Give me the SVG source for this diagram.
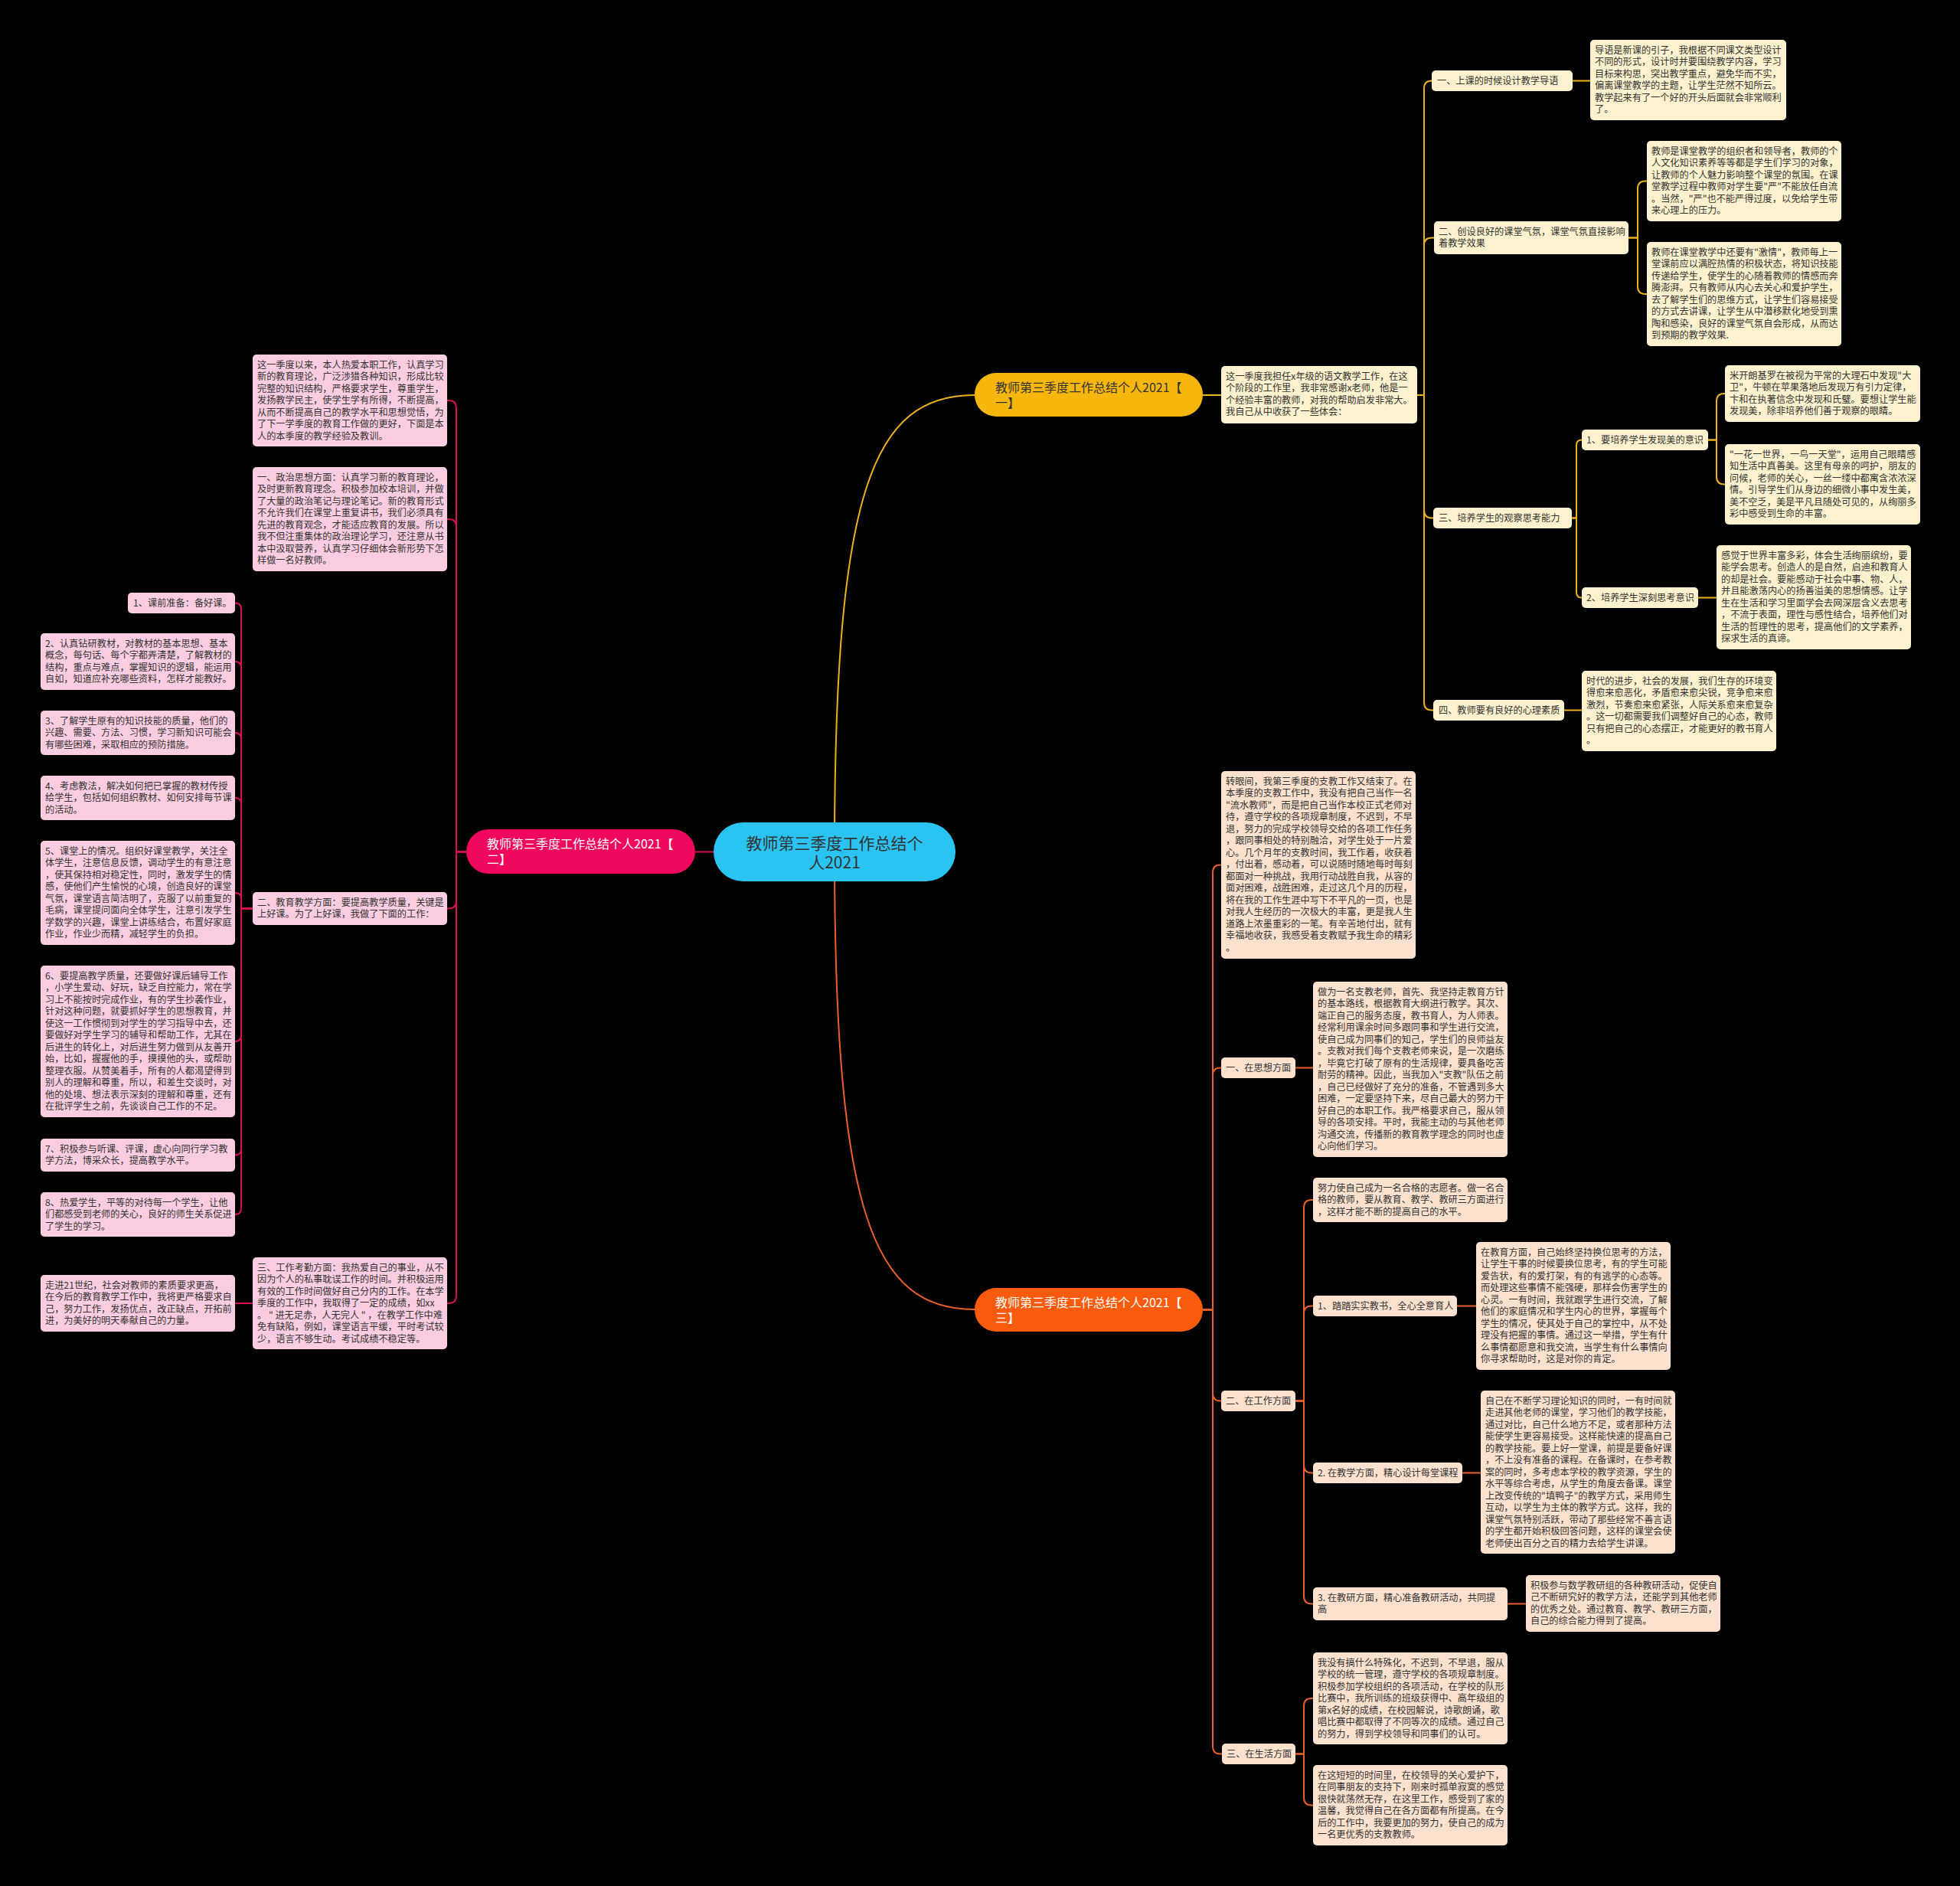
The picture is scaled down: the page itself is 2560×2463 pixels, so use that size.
<svg xmlns="http://www.w3.org/2000/svg" width="2560" height="2463" viewBox="0 0 2560 2463">
<style>
.t{font-family:"Noto Sans CJK SC","Noto Sans",sans-serif;font-size:12.2px;fill:#333}
.r1{fill:#fdf2cd;rx:5}
.r2{fill:#fccde0;rx:5}
.r3{fill:#fde1cf;rx:5}
.ly{fill:none;stroke:#ecb21e;stroke-width:2}
.lp{fill:none;stroke:#d40f55;stroke-width:2}
.lo{fill:none;stroke:#e8602a;stroke-width:2}
.bt{font-family:"Noto Sans CJK SC","Noto Sans",sans-serif;font-size:16px}
</style>
<rect width="2560" height="2463" fill="#000"/>
<g id="connectors">
<path class="ly" stroke-width="2.5" d="M1090 1112 C1090 640 1140 516 1273 516"/>
<path class="lo" stroke-width="2.5" d="M1090 1112 C1090 1584 1140 1710 1273 1710"/>
<path class="lp" stroke-width="2.5" d="M932 1112.5 H908"/>
<path class="ly" d="M1571 516 H1595"/>
<path class="ly" d="M1851 516 H1860 V115.5 Q1860 105.5 1870 105.5"/>
<path class="ly" d="M1851 516 H1860 V320.5 Q1860 310.5 1870 310.5 H1873"/>
<path class="ly" d="M1851 516 H1860 V666.5 Q1860 676.5 1870 676.5 H1872"/>
<path class="ly" d="M1851 516 H1860 V917.5 Q1860 927.5 1870 927.5 H1872"/>
<path class="ly" d="M2054 105.5 H2077"/>
<path class="ly" d="M2127 310.5 H2139 V246.5 Q2139 236.5 2149 236.5 H2151"/>
<path class="ly" d="M2127 310.5 H2139 V374 Q2139 384 2149 384 H2151"/>
<path class="ly" d="M2053 676.5 H2059 V581.5 Q2059 574.5 2066 574.5"/>
<path class="ly" d="M2053 676.5 H2059 V773.5 Q2059 780.5 2066 780.5"/>
<path class="ly" d="M2231 574.5 H2242 V524 Q2242 514 2252 514 H2253"/>
<path class="ly" d="M2231 574.5 H2242 V622.5 Q2242 632.5 2252 632.5 H2253"/>
<path class="ly" d="M2218 780.5 H2242"/>
<path class="ly" d="M2043 927.5 H2066"/>
<path class="lp" d="M609 1112.5 H596 V533 Q596 523 586 523 H584"/>
<path class="lp" d="M609 1112.5 H596 V688 Q596 678 586 678 H584"/>
<path class="lp" d="M609 1112.5 H596 V1176.5 Q596 1186.5 586 1186.5 H584"/>
<path class="lp" d="M609 1112.5 H596 V1692 Q596 1702 586 1702 H584"/>
<path class="lp" d="M330 1186.5 H315 V795.5 Q315 787.5 307 787.5"/>
<path class="lp" d="M330 1186.5 H315 V872 Q315 864 307 864"/>
<path class="lp" d="M330 1186.5 H315 V965 Q315 957 307 957"/>
<path class="lp" d="M330 1186.5 H315 V1050 Q315 1042 307 1042"/>
<path class="lp" d="M330 1186.5 H315 V1174 Q315 1166 307 1166"/>
<path class="lp" d="M330 1186.5 H315 V1352 Q315 1360 307 1360"/>
<path class="lp" d="M330 1186.5 H315 V1500.5 Q315 1508.5 307 1508.5"/>
<path class="lp" d="M330 1186.5 H315 V1578 Q315 1586 307 1586"/>
<path class="lp" d="M330 1702 H307"/>
<path class="lo" d="M1571 1710.5 H1584 V1139.5 Q1584 1129.5 1594 1129.5 H1595"/>
<path class="lo" d="M1571 1710.5 H1584 V1404.5 Q1584 1394.5 1594 1394.5 H1595"/>
<path class="lo" d="M1571 1710.5 H1584 V1819.5 Q1584 1829.5 1594 1829.5 H1595"/>
<path class="lo" d="M1571 1710.5 H1584 V2280.5 Q1584 2290.5 1594 2290.5 H1596"/>
<path class="lo" d="M1692 1394.5 H1715"/>
<path class="lo" d="M1692 1829.5 H1703 V1577 Q1703 1567 1713 1567 H1715"/>
<path class="lo" d="M1692 1829.5 H1703 V1715.5 Q1703 1705.5 1713 1705.5 H1715"/>
<path class="lo" d="M1692 1829.5 H1703 V1913.5 Q1703 1923.5 1713 1923.5 H1715"/>
<path class="lo" d="M1692 1829.5 H1703 V2084.5 Q1703 2094.5 1713 2094.5 H1715"/>
<path class="lo" d="M1903 1705.5 H1928"/>
<path class="lo" d="M1910 1923.5 H1934"/>
<path class="lo" d="M1969 2094.5 H1993"/>
<path class="lo" d="M1692 2290.5 H1703 V2228 Q1703 2218 1713 2218 H1715"/>
<path class="lo" d="M1692 2290.5 H1703 V2347.5 Q1703 2357.5 1713 2357.5 H1715"/>
</g>

<g id="center">
<rect x="932" y="1074" width="316" height="77" rx="38.5" fill="#2bc4f2"/>
<text x="1090" y="1109" text-anchor="middle" font-family="Noto Sans CJK SC, Noto Sans, sans-serif" font-size="21" fill="#333"><tspan x="1090">教师第三季度工作总结个</tspan><tspan x="1090" dy="25">人2021</tspan></text>
</g>

<g id="branch1">
<rect x="1273" y="487" width="298" height="57" rx="28" fill="#f7b60c"/>
<text class="bt" fill="#333" x="1300" y="512"><tspan x="1300">教师第三季度工作总结个人2021【</tspan><tspan x="1300" dy="20">一】</tspan></text>
</g>
<g id="branch2">
<rect x="609" y="1083" width="299" height="58" rx="29" fill="#f0075e"/>
<text class="bt" fill="#fff" x="636" y="1108"><tspan x="636">教师第三季度工作总结个人2021【</tspan><tspan x="636" dy="20">二】</tspan></text>
</g>
<g id="branch3">
<rect x="1273" y="1682" width="298" height="57" rx="28" fill="#fb5b0c"/>
<text class="bt" fill="#fff" x="1300" y="1707"><tspan x="1300">教师第三季度工作总结个人2021【</tspan><tspan x="1300" dy="20">三】</tspan></text>
</g>

<g id="b1-intro"><rect class="r1" x="1595" y="478" width="256" height="75"/>
<text class="t" y="495.5"><tspan x="1601">这一季度我担任x年级的语文教学工作，在这</tspan><tspan x="1601" dy="15.5">个阶段的工作里，我非常感谢x老师，他是一</tspan><tspan x="1601" dy="15.5">个经验丰富的教师，对我的帮助启发非常大。</tspan><tspan x="1601" dy="15.5">我自己从中收获了一些体会：</tspan></text></g>

<g id="b1-l1"><rect class="r1" x="1870" y="92" width="184" height="27"/>
<text class="t" x="1877" y="110">一、上课的时候设计教学导语</text></g>
<g id="b1-l1-box"><rect class="r1" x="2077" y="52" width="256" height="105"/>
<text class="t" y="69.5"><tspan x="2083">导语是新课的引子，我根据不同课文类型设计</tspan><tspan x="2083" dy="15.5">不同的形式，设计时并要围绕教学内容，学习</tspan><tspan x="2083" dy="15.5">目标来构思，突出教学重点，避免华而不实，</tspan><tspan x="2083" dy="15.5">偏离课堂教学的主题，让学生茫然不知所云。</tspan><tspan x="2083" dy="15.5">教学起来有了一个好的开头后面就会非常顺利</tspan><tspan x="2083" dy="15.5">了。</tspan></text></g>

<g id="b1-l2"><rect class="r1" x="1873" y="289" width="254" height="43"/>
<text class="t" y="306.5"><tspan x="1879">二、创设良好的课堂气氛，课堂气氛直接影响</tspan><tspan x="1879" dy="15.5">着教学效果</tspan></text></g>
<g id="b1-l2-a"><rect class="r1" x="2151" y="184" width="254" height="105"/>
<text class="t" y="201.5"><tspan x="2157">教师是课堂教学的组织者和领导者，教师的个</tspan><tspan x="2157" dy="15.5">人文化知识素养等等都是学生们学习的对象，</tspan><tspan x="2157" dy="15.5">让教师的个人魅力影响整个课堂的氛围。在课</tspan><tspan x="2157" dy="15.5">堂教学过程中教师对学生要"严"不能放任自流</tspan><tspan x="2157" dy="15.5">。当然，"严"也不能严得过度，以免给学生带</tspan><tspan x="2157" dy="15.5">来心理上的压力。</tspan></text></g>
<g id="b1-l2-b"><rect class="r1" x="2151" y="316" width="254" height="136"/>
<text class="t" y="333.5"><tspan x="2157">教师在课堂教学中还要有"激情"，教师每上一</tspan><tspan x="2157" dy="15.5">堂课前应以满腔热情的积极状态，将知识技能</tspan><tspan x="2157" dy="15.5">传递给学生，使学生的心随着教师的情感而奔</tspan><tspan x="2157" dy="15.5">腾澎湃。只有教师从内心去关心和爱护学生，</tspan><tspan x="2157" dy="15.5">去了解学生们的思维方式，让学生们容易接受</tspan><tspan x="2157" dy="15.5">的方式去讲课，让学生从中潜移默化地受到熏</tspan><tspan x="2157" dy="15.5">陶和感染，良好的课堂气氛自会形成，从而达</tspan><tspan x="2157" dy="15.5">到预期的教学效果.</tspan></text></g>

<g id="b1-l3"><rect class="r1" x="1872" y="663" width="181" height="27"/>
<text class="t" x="1879" y="681">三、培养学生的观察思考能力</text></g>
<g id="b1-l3-1"><rect class="r1" x="2066" y="561" width="165" height="27"/>
<text class="t" x="2072" y="579">1、要培养学生发现美的意识</text></g>
<g id="b1-l3-1a"><rect class="r1" x="2253" y="477" width="255" height="74"/>
<text class="t" y="494.5"><tspan x="2259">米开朗基罗在被视为平常的大理石中发现"大</tspan><tspan x="2259" dy="15.5">卫"，牛顿在苹果落地后发现万有引力定律，</tspan><tspan x="2259" dy="15.5">卞和在执著信念中发现和氏璧。要想让学生能</tspan><tspan x="2259" dy="15.5">发现美，除非培养他们善于观察的眼睛。</tspan></text></g>
<g id="b1-l3-1b"><rect class="r1" x="2253" y="580" width="255" height="105"/>
<text class="t" y="597.5"><tspan x="2259">"一花一世界，一鸟一天堂"，运用自己眼睛感</tspan><tspan x="2259" dy="15.5">知生活中真善美。这里有母亲的呵护，朋友的</tspan><tspan x="2259" dy="15.5">问候，老师的关心，一丝一缕中都寓含浓浓深</tspan><tspan x="2259" dy="15.5">情。引导学生们从身边的细微小事中发生美，</tspan><tspan x="2259" dy="15.5">美不空乏，美是平凡且随处可见的，从绚丽多</tspan><tspan x="2259" dy="15.5">彩中感受到生命的丰富。</tspan></text></g>
<g id="b1-l3-2"><rect class="r1" x="2066" y="767" width="152" height="27"/>
<text class="t" x="2072" y="785">2、培养学生深刻思考意识</text></g>
<g id="b1-l3-2a"><rect class="r1" x="2242" y="712" width="254" height="136"/>
<text class="t" y="729.5"><tspan x="2248">感觉于世界丰富多彩，体会生活绚丽缤纷，要</tspan><tspan x="2248" dy="15.5">能学会思考。创造人的是自然，启迪和教育人</tspan><tspan x="2248" dy="15.5">的却是社会。要能感动于社会中事、物、人，</tspan><tspan x="2248" dy="15.5">并且能激荡内心的扬善溢美的思想情感。让学</tspan><tspan x="2248" dy="15.5">生在生活和学习里面学会去网深层含义去思考</tspan><tspan x="2248" dy="15.5">，不流于表面，理性与感性结合，培养他们对</tspan><tspan x="2248" dy="15.5">生活的哲理性的思考，提高他们的文学素养，</tspan><tspan x="2248" dy="15.5">探求生活的真谛。</tspan></text></g>

<g id="b1-l4"><rect class="r1" x="1872" y="914" width="171" height="27"/>
<text class="t" x="1879" y="932">四、教师要有良好的心理素质</text></g>
<g id="b1-l4-a"><rect class="r1" x="2066" y="876" width="254" height="105"/>
<text class="t" y="893.5"><tspan x="2072">时代的进步，社会的发展，我们生存的环境变</tspan><tspan x="2072" dy="15.5">得愈来愈恶化，矛盾愈来愈尖锐，竞争愈来愈</tspan><tspan x="2072" dy="15.5">激烈，节奏愈来愈紧张，人际关系愈来愈复杂</tspan><tspan x="2072" dy="15.5">。这一切都需要我们调整好自己的心态，教师</tspan><tspan x="2072" dy="15.5">只有把自己的心态摆正，才能更好的教书育人</tspan><tspan x="2072" dy="15.5">。</tspan></text></g>

<g id="b2-a"><rect class="r2" x="330" y="463" width="254" height="120"/>
<text class="t" y="480.5"><tspan x="336">这一季度以来，本人热爱本职工作，认真学习</tspan><tspan x="336" dy="15.5">新的教育理论，广泛涉猎各种知识，形成比较</tspan><tspan x="336" dy="15.5">完整的知识结构，严格要求学生，尊重学生，</tspan><tspan x="336" dy="15.5">发扬教学民主，使学生学有所得，不断提高，</tspan><tspan x="336" dy="15.5">从而不断提高自己的教学水平和思想觉悟，为</tspan><tspan x="336" dy="15.5">了下一学季度的教育工作做的更好，下面是本</tspan><tspan x="336" dy="15.5">人的本季度的教学经验及教训。</tspan></text></g>
<g id="b2-b"><rect class="r2" x="330" y="610" width="254" height="136"/>
<text class="t" y="627.5"><tspan x="336">一、政治思想方面：认真学习新的教育理论，</tspan><tspan x="336" dy="15.5">及时更新教育理念。积极参加校本培训，并做</tspan><tspan x="336" dy="15.5">了大量的政治笔记与理论笔记。新的教育形式</tspan><tspan x="336" dy="15.5">不允许我们在课堂上重复讲书，我们必须具有</tspan><tspan x="336" dy="15.5">先进的教育观念，才能适应教育的发展。所以</tspan><tspan x="336" dy="15.5">我不但注重集体的政治理论学习，还注意从书</tspan><tspan x="336" dy="15.5">本中汲取营养，认真学习仔细体会新形势下怎</tspan><tspan x="336" dy="15.5">样做一名好教师。</tspan></text></g>
<g id="b2-c"><rect class="r2" x="330" y="1165" width="254" height="43"/>
<text class="t" y="1182.5"><tspan x="336">二、教育教学方面：要提高教学质量，关键是</tspan><tspan x="336" dy="15.5">上好课。为了上好课，我做了下面的工作：</tspan></text></g>
<g id="b2-d"><rect class="r2" x="330" y="1642" width="254" height="120"/>
<text class="t" y="1659.5"><tspan x="336">三、工作考勤方面：我热爱自己的事业，从不</tspan><tspan x="336" dy="15.5">因为个人的私事耽误工作的时间。并积极运用</tspan><tspan x="336" dy="15.5">有效的工作时间做好自己分内的工作。在本学</tspan><tspan x="336" dy="15.5">季度的工作中，我取得了一定的成绩，如xx</tspan><tspan x="336" dy="15.5">。 " 进无足赤，人无完人 " ，在教学工作中难</tspan><tspan x="336" dy="15.5">免有缺陷，例如，课堂语言平缓，平时考试较</tspan><tspan x="336" dy="15.5">少，语言不够生动。考试成绩不稳定等。</tspan></text></g>
<g id="b2-d1"><rect class="r2" x="53" y="1665" width="254" height="74"/>
<text class="t" y="1682.5"><tspan x="59">走进21世纪，社会对教师的素质要求更高，</tspan><tspan x="59" dy="15.5">在今后的教育教学工作中，我将更严格要求自</tspan><tspan x="59" dy="15.5">己，努力工作，发扬优点，改正缺点，开拓前</tspan><tspan x="59" dy="15.5">进，为美好的明天奉献自己的力量。</tspan></text></g>

<g id="b2-c1"><rect class="r2" x="167" y="774" width="140" height="27"/>
<text class="t" x="174" y="792">1、课前准备：备好课。</text></g>
<g id="b2-c2"><rect class="r2" x="53" y="827" width="254" height="74"/>
<text class="t" y="844.5"><tspan x="59">2、认真钻研教材，对教材的基本思想、基本</tspan><tspan x="59" dy="15.5">概念，每句话、每个字都弄清楚，了解教材的</tspan><tspan x="59" dy="15.5">结构，重点与难点，掌握知识的逻辑，能运用</tspan><tspan x="59" dy="15.5">自如，知道应补充哪些资料，怎样才能教好。</tspan></text></g>
<g id="b2-c3"><rect class="r2" x="53" y="928" width="254" height="58"/>
<text class="t" y="945.5"><tspan x="59">3、了解学生原有的知识技能的质量，他们的</tspan><tspan x="59" dy="15.5">兴趣、需要、方法、习惯，学习新知识可能会</tspan><tspan x="59" dy="15.5">有哪些困难，采取相应的预防措施。</tspan></text></g>
<g id="b2-c4"><rect class="r2" x="53" y="1013" width="254" height="58"/>
<text class="t" y="1030.5"><tspan x="59">4、考虑教法，解决如何把已掌握的教材传授</tspan><tspan x="59" dy="15.5">给学生，包括如何组织教材、如何安排每节课</tspan><tspan x="59" dy="15.5">的活动。</tspan></text></g>
<g id="b2-c5"><rect class="r2" x="53" y="1098" width="254" height="136"/>
<text class="t" y="1115.5"><tspan x="59">5、课堂上的情况。组织好课堂教学，关注全</tspan><tspan x="59" dy="15.5">体学生，注意信息反馈，调动学生的有意注意</tspan><tspan x="59" dy="15.5">，使其保持相对稳定性，同时，激发学生的情</tspan><tspan x="59" dy="15.5">感，使他们产生愉悦的心境，创造良好的课堂</tspan><tspan x="59" dy="15.5">气氛，课堂语言简洁明了，克服了以前重复的</tspan><tspan x="59" dy="15.5">毛病，课堂提问面向全体学生，注意引发学生</tspan><tspan x="59" dy="15.5">学数学的兴趣，课堂上讲练结合，布置好家庭</tspan><tspan x="59" dy="15.5">作业，作业少而精，减轻学生的负担。</tspan></text></g>
<g id="b2-c6"><rect class="r2" x="53" y="1261" width="254" height="198"/>
<text class="t" y="1278.5"><tspan x="59">6、要提高教学质量，还要做好课后辅导工作</tspan><tspan x="59" dy="15.5">，小学生爱动、好玩，缺乏自控能力，常在学</tspan><tspan x="59" dy="15.5">习上不能按时完成作业，有的学生抄袭作业，</tspan><tspan x="59" dy="15.5">针对这种问题，就要抓好学生的思想教育，并</tspan><tspan x="59" dy="15.5">使这一工作惯彻到对学生的学习指导中去，还</tspan><tspan x="59" dy="15.5">要做好对学生学习的辅导和帮助工作，尤其在</tspan><tspan x="59" dy="15.5">后进生的转化上，对后进生努力做到从友善开</tspan><tspan x="59" dy="15.5">始，比如，握握他的手，摸摸他的头，或帮助</tspan><tspan x="59" dy="15.5">整理衣服。从赞美着手，所有的人都渴望得到</tspan><tspan x="59" dy="15.5">别人的理解和尊重，所以，和差生交谈时，对</tspan><tspan x="59" dy="15.5">他的处境、想法表示深刻的理解和尊重，还有</tspan><tspan x="59" dy="15.5">在批评学生之前，先谈谈自己工作的不足。</tspan></text></g>
<g id="b2-c7"><rect class="r2" x="53" y="1487" width="254" height="43"/>
<text class="t" y="1504.5"><tspan x="59">7、积极参与听课、评课，虚心向同行学习教</tspan><tspan x="59" dy="15.5">学方法，博采众长，提高教学水平。</tspan></text></g>
<g id="b2-c8"><rect class="r2" x="53" y="1557" width="254" height="58"/>
<text class="t" y="1574.5"><tspan x="59">8、热爱学生，平等的对待每一个学生，让他</tspan><tspan x="59" dy="15.5">们都感受到老师的关心，良好的师生关系促进</tspan><tspan x="59" dy="15.5">了学生的学习。</tspan></text></g>

<g id="b3-a"><rect class="r3" x="1595" y="1007" width="254" height="245"/>
<text class="t" y="1024.5"><tspan x="1601">转眼间，我第三季度的支教工作又结束了。在</tspan><tspan x="1601" dy="15.5">本季度的支教工作中，我没有把自己当作一名</tspan><tspan x="1601" dy="15.5">"流水教师"，而是把自己当作本校正式老师对</tspan><tspan x="1601" dy="15.5">待，遵守学校的各项规章制度，不迟到，不早</tspan><tspan x="1601" dy="15.5">退，努力的完成学校领导交给的各项工作任务</tspan><tspan x="1601" dy="15.5">，跟同事相处的特别融洽，对学生处于一片爱</tspan><tspan x="1601" dy="15.5">心。几个月年的支教时间，我工作着，收获着</tspan><tspan x="1601" dy="15.5">，付出着，感动着，可以说随时随地每时每刻</tspan><tspan x="1601" dy="15.5">都面对一种挑战，我用行动战胜自我，从容的</tspan><tspan x="1601" dy="15.5">面对困难，战胜困难，走过这几个月的历程，</tspan><tspan x="1601" dy="15.5">将在我的工作生涯中写下不平凡的一页，也是</tspan><tspan x="1601" dy="15.5">对我人生经历的一次极大的丰富，更是我人生</tspan><tspan x="1601" dy="15.5">道路上浓墨重彩的一笔。有辛苦地付出，就有</tspan><tspan x="1601" dy="15.5">幸福地收获，我感受着支教赋予我生命的精彩</tspan><tspan x="1601" dy="15.5">。</tspan></text></g>

<g id="b3-l1"><rect class="r3" x="1595" y="1381" width="97" height="27"/>
<text class="t" x="1601" y="1399">一、在思想方面</text></g>
<g id="b3-l1-a"><rect class="r3" x="1715" y="1282" width="254" height="229"/>
<text class="t" y="1299.5"><tspan x="1721">做为一名支教老师，首先、我坚持走教育方针</tspan><tspan x="1721" dy="15.5">的基本路线，根据教育大纲进行教学。其次、</tspan><tspan x="1721" dy="15.5">端正自己的服务态度，教书育人，为人师表。</tspan><tspan x="1721" dy="15.5">经常利用课余时间多跟同事和学生进行交流，</tspan><tspan x="1721" dy="15.5">使自己成为同事们的知己，学生们的良师益友</tspan><tspan x="1721" dy="15.5">。支教对我们每个支教老师来说，是一次磨练</tspan><tspan x="1721" dy="15.5">，毕竟它打破了原有的生活规律，要具备吃苦</tspan><tspan x="1721" dy="15.5">耐劳的精神。因此，当我加入"支教"队伍之前</tspan><tspan x="1721" dy="15.5">，自己已经做好了充分的准备，不管遇到多大</tspan><tspan x="1721" dy="15.5">困难，一定要坚持下来，尽自己最大的努力干</tspan><tspan x="1721" dy="15.5">好自己的本职工作。我严格要求自己，服从领</tspan><tspan x="1721" dy="15.5">导的各项安排。平时，我能主动的与其他老师</tspan><tspan x="1721" dy="15.5">沟通交流，传播新的教育教学理念的同时也虚</tspan><tspan x="1721" dy="15.5">心向他们学习。</tspan></text></g>

<g id="b3-l2"><rect class="r3" x="1595" y="1816" width="97" height="27"/>
<text class="t" x="1601" y="1834">二、在工作方面</text></g>
<g id="b3-l2-a"><rect class="r3" x="1715" y="1538" width="254" height="58"/>
<text class="t" y="1555.5"><tspan x="1721">努力使自己成为一名合格的志愿者。做一名合</tspan><tspan x="1721" dy="15.5">格的教师，要从教育、教学、教研三方面进行</tspan><tspan x="1721" dy="15.5">，这样才能不断的提高自己的水平。</tspan></text></g>
<g id="b3-l2-1"><rect class="r3" x="1715" y="1692" width="188" height="27"/>
<text class="t" x="1721" y="1710">1、踏踏实实教书，全心全意育人</text></g>
<g id="b3-l2-1a"><rect class="r3" x="1928" y="1622" width="254" height="167"/>
<text class="t" y="1639.5"><tspan x="1934">在教育方面，自己始终坚持换位思考的方法，</tspan><tspan x="1934" dy="15.5">让学生干事的时候要换位思考，有的学生可能</tspan><tspan x="1934" dy="15.5">爱告状，有的爱打架，有的有逃学的心态等。</tspan><tspan x="1934" dy="15.5">而处理这些事情不能强硬，那样会伤害学生的</tspan><tspan x="1934" dy="15.5">心灵。一有时间，我就跟学生进行交流，了解</tspan><tspan x="1934" dy="15.5">他们的家庭情况和学生内心的世界，掌握每个</tspan><tspan x="1934" dy="15.5">学生的情况，使其处于自己的掌控中，从不处</tspan><tspan x="1934" dy="15.5">理没有把握的事情。通过这一举措，学生有什</tspan><tspan x="1934" dy="15.5">么事情都愿意和我交流，当学生有什么事情向</tspan><tspan x="1934" dy="15.5">你寻求帮助时，这是对你的肯定。</tspan></text></g>
<g id="b3-l2-2"><rect class="r3" x="1715" y="1910" width="195" height="27"/>
<text class="t" x="1721" y="1928">2. 在教学方面，精心设计每堂课程</text></g>
<g id="b3-l2-2a"><rect class="r3" x="1934" y="1816" width="254" height="213"/>
<text class="t" y="1833.5"><tspan x="1940">自己在不断学习理论知识的同时，一有时间就</tspan><tspan x="1940" dy="15.5">走进其他老师的课堂，学习他们的教学技能，</tspan><tspan x="1940" dy="15.5">通过对比，自己什么地方不足，或者那种方法</tspan><tspan x="1940" dy="15.5">能使学生更容易接受。这样能快速的提高自己</tspan><tspan x="1940" dy="15.5">的教学技能。要上好一堂课，前提是要备好课</tspan><tspan x="1940" dy="15.5">，不上没有准备的课程。在备课时，在参考教</tspan><tspan x="1940" dy="15.5">案的同时，多考虑本学校的教学资源，学生的</tspan><tspan x="1940" dy="15.5">水平等综合考虑，从学生的角度去备课。课堂</tspan><tspan x="1940" dy="15.5">上改变传统的"填鸭子"的教学方式，采用师生</tspan><tspan x="1940" dy="15.5">互动，以学生为主体的教学方式。这样，我的</tspan><tspan x="1940" dy="15.5">课堂气氛特别活跃，带动了那些经常不善言语</tspan><tspan x="1940" dy="15.5">的学生都开始积极回答问题，这样的课堂会使</tspan><tspan x="1940" dy="15.5">老师使出百分之百的精力去给学生讲课。</tspan></text></g>
<g id="b3-l2-3"><rect class="r3" x="1715" y="2073" width="254" height="43"/>
<text class="t" y="2090.5"><tspan x="1721">3. 在教研方面，精心准备教研活动，共同提</tspan><tspan x="1721" dy="15.5">高</tspan></text></g>
<g id="b3-l2-3a"><rect class="r3" x="1993" y="2057" width="254" height="74"/>
<text class="t" y="2074.5"><tspan x="1999">积极参与数学教研组的各种教研活动，促使自</tspan><tspan x="1999" dy="15.5">己不断研究好的教学方法，还能学到其他老师</tspan><tspan x="1999" dy="15.5">的优秀之处。通过教育、教学、教研三方面，</tspan><tspan x="1999" dy="15.5">自己的综合能力得到了提高。</tspan></text></g>

<g id="b3-l3"><rect class="r3" x="1596" y="2277" width="96" height="27"/>
<text class="t" x="1602" y="2295">三、在生活方面</text></g>
<g id="b3-l3-a"><rect class="r3" x="1715" y="2158" width="254" height="120"/>
<text class="t" y="2175.5"><tspan x="1721">我没有搞什么特殊化，不迟到，不早退，服从</tspan><tspan x="1721" dy="15.5">学校的统一管理，遵守学校的各项规章制度。</tspan><tspan x="1721" dy="15.5">积极参加学校组织的各项活动，在学校的队形</tspan><tspan x="1721" dy="15.5">比赛中，我所训练的班级获得中、高年级组的</tspan><tspan x="1721" dy="15.5">第x名好的成绩，在校园解说，诗歌朗诵，歌</tspan><tspan x="1721" dy="15.5">唱比赛中都取得了不同等次的成绩。通过自己</tspan><tspan x="1721" dy="15.5">的努力，得到学校领导和同事们的认可。</tspan></text></g>
<g id="b3-l3-b"><rect class="r3" x="1715" y="2305" width="254" height="105"/>
<text class="t" y="2322.5"><tspan x="1721">在这短短的时间里，在校领导的关心爱护下，</tspan><tspan x="1721" dy="15.5">在同事朋友的支持下，刚来时孤单寂寞的感觉</tspan><tspan x="1721" dy="15.5">很快就荡然无存，在这里工作，感受到了家的</tspan><tspan x="1721" dy="15.5">温馨，我觉得自己在各方面都有所提高。在今</tspan><tspan x="1721" dy="15.5">后的工作中，我要更加的努力，使自己的成为</tspan><tspan x="1721" dy="15.5">一名更优秀的支教教师。</tspan></text></g>
</svg>
